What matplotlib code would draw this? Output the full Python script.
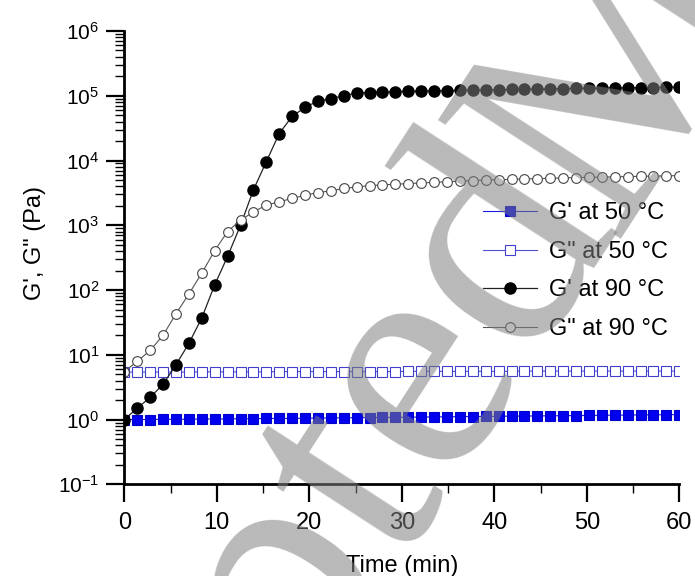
import numpy as np
import matplotlib
matplotlib.use('Agg')
import matplotlib.pyplot as plt
from matplotlib.ticker import LogLocator, MultipleLocator, FuncFormatter, NullFormatter

plt.rcParams['font.family'] = ['Liberation Sans', 'DejaVu Sans']
plt.rcParams['mathtext.fontset'] = 'custom'
plt.rcParams['mathtext.rm'] = 'Liberation Sans'

# time (min), one point every ~1.4 min
time = [0.0, 1.40, 2.79, 4.19, 5.58, 6.98, 8.37, 9.77, 11.16, 12.56,
        13.95, 15.35, 16.74, 18.14, 19.53, 20.93, 22.33, 23.72, 25.12, 26.51,
        27.91, 29.30, 30.70, 32.09, 33.49, 34.88, 36.28, 37.67, 39.07, 40.47,
        41.86, 43.26, 44.65, 46.05, 47.44, 48.84, 50.23, 51.63, 53.02, 54.42,
        55.81, 57.21, 58.60, 60.0]

g1_50 = [1.00, 1.00, 1.00, 1.01, 1.01, 1.01, 1.02, 1.02, 1.02, 1.03,
         1.03, 1.04, 1.04, 1.04, 1.05, 1.05, 1.06, 1.06, 1.07, 1.07,
         1.08, 1.08, 1.09, 1.09, 1.10, 1.10, 1.11, 1.11, 1.12, 1.12,
         1.13, 1.13, 1.14, 1.14, 1.15, 1.15, 1.16, 1.16, 1.17, 1.17,
         1.18, 1.18, 1.19, 1.19]
g2_50 = [5.4, 5.4, 5.4, 5.4, 5.4, 5.4, 5.45, 5.45, 5.45, 5.45,
         5.45, 5.45, 5.5, 5.5, 5.5, 5.5, 5.5, 5.5, 5.5, 5.5,
         5.5, 5.5, 5.55, 5.55, 5.55, 5.55, 5.55, 5.55, 5.55, 5.55,
         5.55, 5.6, 5.6, 5.6, 5.6, 5.6, 5.6, 5.6, 5.6, 5.6,
         5.6, 5.6, 5.6, 5.6]
g1_90 = [1.0, 1.5, 2.2, 3.5, 7.0, 15, 37, 120, 330, 1000,
         3500, 9600, 26000, 48000, 66000, 83000, 90000, 100000, 110000, 112000,
         114000, 116000, 117000, 118000, 119000, 120000, 121000, 122000, 123000, 124000,
         125000, 126000, 127000, 128000, 129000, 130000, 130000, 131000, 132000, 133000,
         133000, 134000, 135000, 136000]
g2_90 = [5.5, 7.9, 11.7, 20, 43, 87, 182, 406, 800, 1200,
         1600, 2050, 2300, 2600, 2900, 3200, 3400, 3700, 3900, 4100,
         4200, 4300, 4400, 4500, 4600, 4700, 4800, 4900, 5000, 5050,
         5100, 5200, 5250, 5300, 5400, 5450, 5500, 5550, 5600, 5650,
         5700, 5750, 5800, 5850]

labels = ["G' at 50 °C", 'G" at 50 °C', "G' at 90 °C", 'G" at 90 °C']

fig = plt.figure(figsize=(6.95, 5.76), dpi=100)
ax = fig.add_axes([0.1789, 0.1592, 0.7985, 0.787])

ax.plot(time, g1_50, '-s', color='#1a1ae0', lw=0.8, ms=6.5, mfc='#0000ee', mec='#0000cc', mew=0.8, label=labels[0])
ax.plot(time, g2_50, '-s', color='#5050d8', lw=0.8, ms=6.5, mfc='white', mec='#4040cc', mew=0.8, label=labels[1])
ax.plot(time, g1_90, '-o', color='#222222', lw=0.9, ms=8, mfc='black', mec='black', label=labels[2])
ax.plot(time, g2_90, '-o', color='#555555', lw=0.8, ms=7, mfc='white', mec='#444444', mew=0.8, label=labels[3])

ax.set_yscale('log')
ax.set_xlim(0, 60)
ax.set_ylim(1e-1, 1e6)
ax.xaxis.set_major_locator(MultipleLocator(10))
ax.xaxis.set_minor_locator(MultipleLocator(5))
ax.yaxis.set_major_locator(LogLocator(base=10, numticks=20))
ax.yaxis.set_minor_locator(LogLocator(base=10, subs=np.arange(2, 10), numticks=20))
ax.yaxis.set_minor_formatter(NullFormatter())
ax.yaxis.set_major_formatter(FuncFormatter(lambda v, p: r'$\mathregular{10^{%d}}$' % round(np.log10(v))))

for s in ['top', 'right']:
    ax.spines[s].set_visible(False)
for s in ['left', 'bottom']:
    ax.spines[s].set_linewidth(2)

ax.tick_params(which='major', direction='out', length=13, width=1.6, color='black')
ax.tick_params(which='minor', direction='out', length=6.5, width=1.0)
ax.tick_params(axis='x', which='major', labelsize=17, pad=7)
ax.tick_params(axis='y', which='major', labelsize=15, pad=5)

ax.set_xlabel('Time (min)', fontsize=17)
ax.set_ylabel('G\', G" (Pa)', fontsize=17)
ax.xaxis.set_label_coords(0.5, -0.155)
ax.yaxis.set_label_coords(-0.141, 0.532)

ax.legend(loc='upper left', bbox_to_anchor=(0.646, 0.622), frameon=False, fontsize=17,
          handlelength=2.3, handletextpad=0.5, labelspacing=0.7, borderpad=0, borderaxespad=0)

# watermark, two words placed separately
wm = dict(fontsize=240, family='Liberation Serif', rotation=57, rotation_mode='anchor',
          ha='left', va='baseline', color='#808080', alpha=0.55, zorder=10)
fig.text(-0.0938, -1.2236, 'Accepted', **wm)
fig.text(0.8796, 0.5852, 'Manuscript', **wm)

fig.savefig('out.png', dpi=100)
